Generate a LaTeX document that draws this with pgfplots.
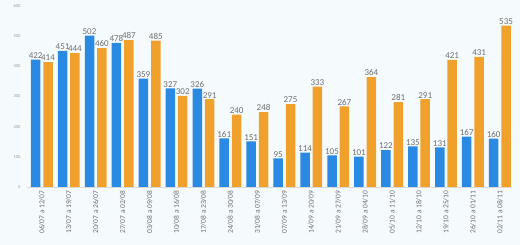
\documentclass[border=0pt]{standalone}
\usepackage{pgfplots}
\pgfplotsset{compat=1.18}
\usepackage{fontspec}
\setmainfont{Carlito}
\definecolor{bg}{HTML}{F5FBFD}
\definecolor{cblue}{HTML}{2A89E2}
\definecolor{corange}{HTML}{F0A12C}
\definecolor{lblgray}{HTML}{6E6E6E}
\definecolor{tickgray}{HTML}{9A9A9A}
\begin{document}
\begin{tikzpicture}[x=1pt,y=1pt]
\path[use as bounding box, fill=bg] (0,0) rectangle (520,245);
\begin{axis}[
  at={(27pt,58pt)}, anchor=south west,
  scale only axis, width=485pt, height=181pt,
  ymin=0, ymax=600,
  xmin=-0.55, xmax=17.45,
  ytick={0,100,...,600},
  xtick={0,...,17},
  xticklabels={06/07 a 12/07,13/07 a 19/07,20/07 a 26/07,27/07 a 02/08,03/08 a 09/08,10/08 a 16/08,17/08 a 23/08,24/08 a 30/08,31/08 a 07/09,07/09 a 13/09,14/09 a 20/09,21/09 a 27/09,28/09 a 04/10,05/10 a 11/10,12/10 a 18/10,19/10 a 25/10,26/10 a 01/11,02/11 a 08/11},
  x tick label style={rotate=90, anchor=east, font=\fontsize{7.5}{8}\selectfont, text=lblgray},
  y tick label style={font=\fontsize{4.5}{5}\selectfont, text=tickgray, xshift=-3pt},
  /pgf/number format/assume math mode=true,
  axis x line*=bottom, axis y line*=left,
  x axis line style={draw=black!15},
  y axis line style={draw=none},
  major tick length=0pt,
  ytick style={draw=none}, xtick style={draw=none},
  axis background/.style={fill=bg},
  ybar, bar width=9.5pt,
  nodes near coords,
  every node near coord/.append style={font=\fontsize{9}{10}\selectfont, text=lblgray, inner sep=1pt},
  clip=false,
]
\addplot[fill=cblue, draw=none, bar shift=-6.2pt] coordinates {
(0,422) (1,451) (2,502) (3,478) (4,359) (5,327) (6,326) (7,161) (8,151) (9,95) (10,114) (11,105) (12,101) (13,122) (14,135) (15,131) (16,167) (17,160)};
\addplot[fill=corange, draw=none, bar shift=6.2pt] coordinates {
(0,414) (1,444) (2,460) (3,487) (4,485) (5,302) (6,291) (7,240) (8,248) (9,275) (10,333) (11,267) (12,364) (13,281) (14,291) (15,421) (16,431) (17,535)};
\end{axis}
\end{tikzpicture}
\end{document}
